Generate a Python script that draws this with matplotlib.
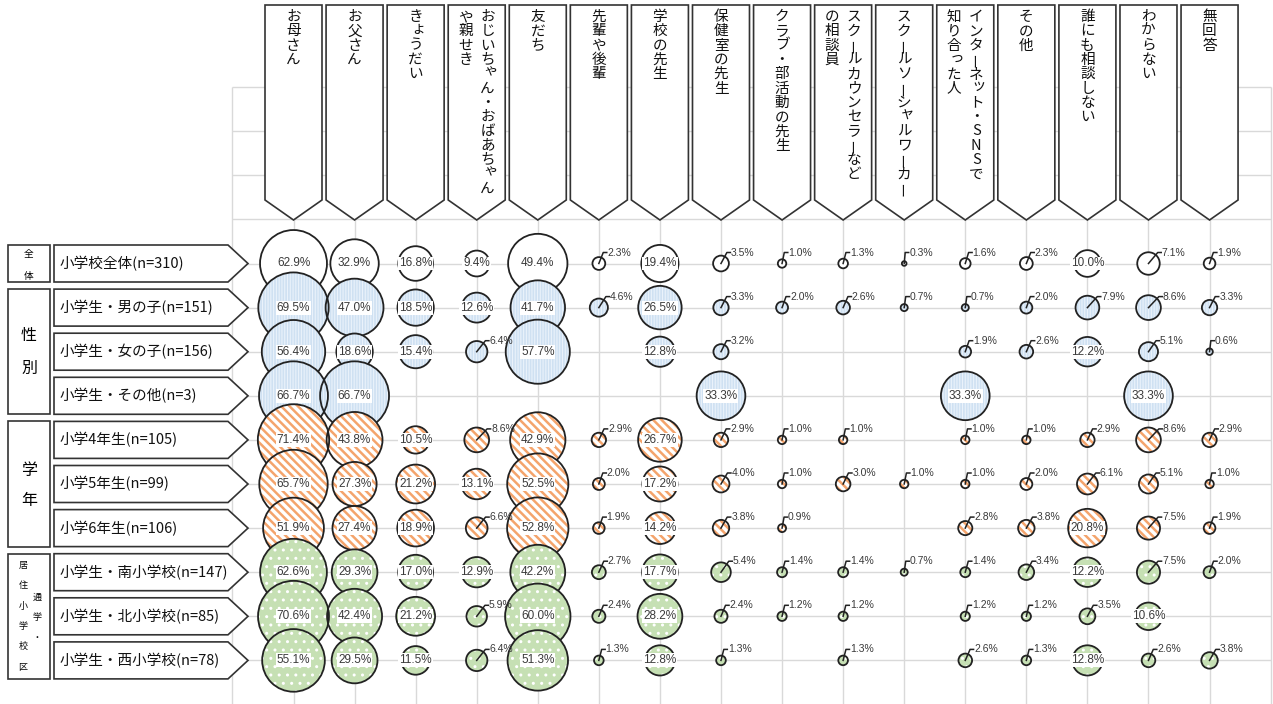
import matplotlib.pyplot as plt
from matplotlib.patches import Circle, Polygon, Rectangle

plt.rcParams['font.family'] = ['Noto Sans CJK JP', 'DejaVu Sans']

# column headers (\n = next vertical column, read right to left)
items = ['お母さん', 'お父さん', 'きょうだい', 'おじいちゃん・おばあちゃん\nや親せき', '友だち',
         '先輩や後輩', '学校の先生', '保健室の先生', 'クラブ・部活動の先生',
         'スクールカウンセラーなど\nの相談員', 'スクールソーシャルワーカー',
         'インターネット・SNSで\n知り合った人', 'その他', '誰にも相談しない', 'わからない', '無回答']

rows = ['小学校全体(n=310)', '小学生・男の子(n=151)', '小学生・女の子(n=156)', '小学生・その他(n=3)',
        '小学4年生(n=105)', '小学5年生(n=99)', '小学6年生(n=106)',
        '小学生・南小学校(n=147)', '小学生・北小学校(n=85)', '小学生・西小学校(n=78)']

# percentages, None = no answer in that cell
v_all   = [62.9, 32.9, 16.8, 9.4, 49.4, 2.3, 19.4, 3.5, 1.0, 1.3, 0.3, 1.6, 2.3, 10.0, 7.1, 1.9]
v_boy   = [69.5, 47.0, 18.5, 12.6, 41.7, 4.6, 26.5, 3.3, 2.0, 2.6, 0.7, 0.7, 2.0, 7.9, 8.6, 3.3]
v_girl  = [56.4, 18.6, 15.4, 6.4, 57.7, None, 12.8, 3.2, None, None, None, 1.9, 2.6, 12.2, 5.1, 0.6]
v_other = [66.7, 66.7, None, None, None, None, None, 33.3, None, None, None, 33.3, None, None, 33.3, None]
v_g4    = [71.4, 43.8, 10.5, 8.6, 42.9, 2.9, 26.7, 2.9, 1.0, 1.0, None, 1.0, 1.0, 2.9, 8.6, 2.9]
v_g5    = [65.7, 27.3, 21.2, 13.1, 52.5, 2.0, 17.2, 4.0, 1.0, 3.0, 1.0, 1.0, 2.0, 6.1, 5.1, 1.0]
v_g6    = [51.9, 27.4, 18.9, 6.6, 52.8, 1.9, 14.2, 3.8, 0.9, None, None, 2.8, 3.8, 20.8, 7.5, 1.9]
v_south = [62.6, 29.3, 17.0, 12.9, 42.2, 2.7, 17.7, 5.4, 1.4, 1.4, 0.7, 1.4, 3.4, 12.2, 7.5, 2.0]
v_north = [70.6, 42.4, 21.2, 5.9, 60.0, 2.4, 28.2, 2.4, 1.2, 1.2, None, 1.2, 1.2, 3.5, 10.6, None]
v_west  = [55.1, 29.5, 11.5, 6.4, 51.3, 1.3, 12.8, 1.3, None, 1.3, None, 2.6, 1.3, 12.8, 2.6, 3.8]
values = [v_all, v_boy, v_girl, v_other, v_g4, v_g5, v_g6, v_south, v_north, v_west]

row_style = ['white', 'blue', 'blue', 'blue', 'orange', 'orange', 'orange', 'green', 'green', 'green']

fig = plt.figure(figsize=(12.73, 7.04), dpi=100)
ax = fig.add_axes([0, 0, 1, 1])
ax.set_xlim(0, 1273)
ax.set_ylim(704, 0)
ax.axis('off')

x0, dx = 293.5, 61.07
y0, dy = 263.5, 44.1
k = 4.22  # bubble radius per sqrt(%)


def cx(i):
    return x0 + dx * i


def ry(j):
    return y0 + dy * j


# grid
ax.vlines([cx(i) for i in range(-1, 17)], ry(-4), 704, color='#d9d9d9', lw=1, zorder=0)
ax.hlines([ry(j) for j in range(-4, 11)], cx(-1), cx(16), color='#d9d9d9', lw=1, zorder=0)

# column headers with vertical text
small = 'ゃゅょっャュョッァィゥェォぁぃぅぇぉ'
for i, lab in enumerate(items):
    xc = cx(i)
    ax.add_patch(Polygon([(xc - 28.5, 5), (xc + 28.5, 5), (xc + 28.5, 200), (xc, 220), (xc - 28.5, 200)],
                         closed=True, fc='white', ec='#333333', lw=1.2, zorder=2))
    lines = lab.split('\n')
    offs = [0] if len(lines) == 1 else [11, -11]
    for line, off in zip(lines, offs):
        for n, ch in enumerate(line):
            x = xc + off
            y = 17 + 14.3 * n
            rot = 90 if ch == 'ー' else 0
            if ch in small:
                x += 2.5
                y -= 2.5
            ax.text(x, y, ch, ha='center', va='center', fontsize=10.5, rotation=rot,
                    color='#111111', zorder=3)

# row labels
for j, lab in enumerate(rows):
    y = ry(j)
    ax.add_patch(Polygon([(54, y - 18.5), (228, y - 18.5), (248, y), (228, y + 18.5), (54, y + 18.5)],
                         closed=True, fc='white', ec='#333333', lw=1.2, zorder=2))
    ax.text(60, y, lab, ha='left', va='center', fontsize=10.5, color='#111111', zorder=3)

# group boxes
for a, b in [(0, 0), (1, 3), (4, 6), (7, 9)]:
    ax.add_patch(Rectangle((8, ry(a) - 18.5), 42, ry(b) - ry(a) + 37,
                           fc='white', ec='#333333', lw=1.2, zorder=2))
yc = ry(0)
ax.text(29, yc - 10, '全', ha='center', va='center', fontsize=7, zorder=3)
ax.text(29, yc + 13, '体', ha='center', va='center', fontsize=7, zorder=3)
yc = (ry(1) + ry(3)) / 2
ax.text(29, yc - 16, '性', ha='center', va='center', fontsize=11.5, zorder=3)
ax.text(29, yc + 17, '別', ha='center', va='center', fontsize=11.5, zorder=3)
yc = (ry(4) + ry(6)) / 2
ax.text(29, yc - 14, '学', ha='center', va='center', fontsize=11.5, zorder=3)
ax.text(29, yc + 16, '年', ha='center', va='center', fontsize=11.5, zorder=3)
yc = (ry(7) + ry(9)) / 2
for n, ch in enumerate('居住小学校区'):
    ax.text(23, yc - 51 + 20.4 * n, ch, ha='center', va='center', fontsize=6.5, zorder=3)
for n, ch in enumerate('通学・'):
    ax.text(37, yc - 19 + 20 * n, ch, ha='center', va='center', fontsize=6.5, zorder=3)

# bubbles
fills = {
    'white': ('white', None, None, 0),
    'blue': ('#cfe1f2', '||||||', '#eaf2fb', 0.8),
    'orange': ('white', '\\\\\\\\', '#f4a46c', 1.8),
    'green': ('#c6e0b4', '..', 'white', 1.0),
}
for j, vals in enumerate(values):
    fc, hatch, hc, hlw = fills[row_style[j]]
    y = ry(j)
    for i, v in enumerate(vals):
        if v is None:
            continue
        x = cx(i)
        r = k * v ** 0.5
        z = 4 + j * 0.1
        base = Circle((x, y), r, fc=fc, ec=hc if hc else 'none', lw=0, hatch=hatch, zorder=z)
        if hatch:
            base.set_hatch_linewidth(hlw)
        ax.add_patch(base)
        ax.add_patch(Circle((x, y), r, fill=False, ec='#222222', lw=1.3, zorder=z + 0.01))
        txt = f'{v:.1f}%'
        if v >= 9:
            ax.text(x, y, txt, ha='center', va='center', fontsize=8.5, color='#3a3a3a',
                    family=['Liberation Sans', 'DejaVu Sans'],
                    bbox=dict(boxstyle='square,pad=0.08', fc='white', ec='none'), zorder=10)
        else:
            bx = x + max(r - 2, 1)
            by = y - 11
            ax.plot([x, bx, bx + 3.5], [y, by, by], color='#222222', lw=1.1, zorder=10)
            ax.text(bx + 4, by, txt, ha='left', va='center', fontsize=7.5, color='#3a3a3a',
                    family=['Liberation Sans', 'DejaVu Sans'], zorder=10)

fig.savefig('out.png', dpi=100)
